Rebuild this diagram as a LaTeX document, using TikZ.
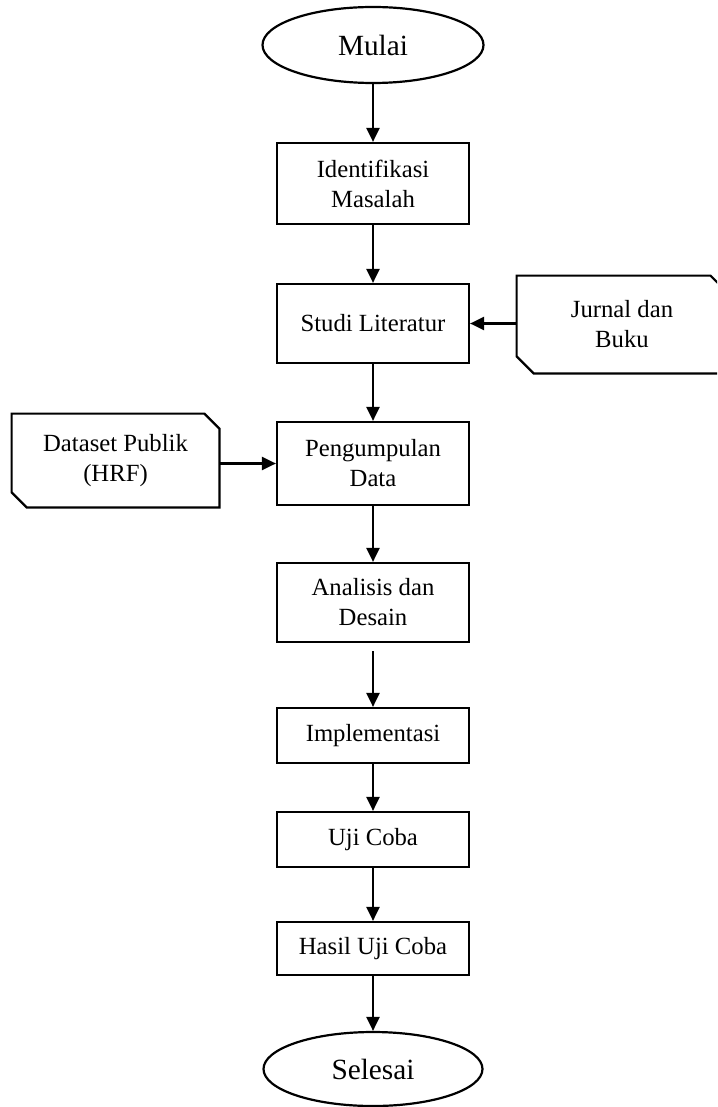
\documentclass[tikz,border=0pt]{standalone}
\usepackage{fontspec}
\setmainfont{Liberation Serif}
\usetikzlibrary{arrows.meta,shapes.geometric}
\tikzset{
  boxnode/.style={draw, line width=1.1pt, rectangle, inner sep=0pt, minimum width=96pt, align=center, font=\fontsize{12.35pt}{15pt}\selectfont},
  termnode/.style={draw, line width=1.1pt, ellipse, inner sep=0pt, font=\fontsize{14.65pt}{17pt}\selectfont},
  sidenode/.style={rectangle, inner sep=0pt, align=center, font=\fontsize{12.35pt}{15pt}\selectfont},
  sideline/.style={line width=1.1pt, line join=miter},
  arr/.style={line width=1.1pt, -{Triangle[length=7pt,width=6.5pt]}}
}
\begin{document}
\begin{tikzpicture}[x=0.5pt,y=-0.5pt]
\useasboundingbox (0,0) rectangle (717,1107);
\clip (0,0) rectangle (717,1107);
\fill[white] (0,0) rectangle (717,1107);

\node[termnode, minimum width=110.5pt, minimum height=38pt] (mulai) at (373,45) {Mulai};
\node[boxnode, minimum height=40.5pt] (idm) at (373,183.5) {Identifikasi\\Masalah};
\node[boxnode, minimum height=39.5pt] (stu) at (373,323.5) {Studi Literatur};
\node[boxnode, minimum height=41.5pt] (pen) at (373,463.5) {Pengumpulan\\Data};
\node[boxnode, minimum height=39.5pt] (ana) at (373,602.5) {Analisis dan\\Desain};
\node[boxnode, minimum height=27.5pt] (imp) at (373,735.5) {Implementasi};
\node[boxnode, minimum height=27.5pt] (uji) at (373,839.5) {Uji Coba};
\node[boxnode, minimum height=26.5pt] (has) at (373,948.5) {Hasil Uji Coba};
\node[termnode, minimum width=109.5pt, minimum height=37pt] (sel) at (373,1069) {Selesai};

% side inputs
\node[sidenode, minimum width=105pt, minimum height=48.5pt] (jur) at (622,324.5) {Jurnal dan\\Buku};
\draw[sideline] ([xshift=-8.5pt]jur.north east) -- (jur.north west) -- ([yshift=8.5pt]jur.south west)
  -- ([xshift=8.5pt]jur.south west) -- (jur.south east) -- ([yshift=-8.5pt]jur.north east) -- cycle;

\node[sidenode, minimum width=103.5pt, minimum height=46.5pt] (ds) at (115.5,460.5) {Dataset Publik\\(HRF)};
\draw[sideline] ([xshift=-7.5pt]ds.north east) -- (ds.north west) -- ([yshift=7.5pt]ds.south west)
  -- ([xshift=7.5pt]ds.south west) -- (ds.south east) -- ([yshift=-7.5pt]ds.north east) -- cycle;

% connectors
\draw[arr] (mulai.south) -- (idm.north);
\draw[arr] (idm.south) -- (stu.north);
\draw[arr] (stu.south) -- (pen.north);
\draw[arr] (pen.south) -- (ana.north);
\draw[arr] ([yshift=-4pt]ana.south) -- (imp.north);
\draw[arr] (imp.south) -- (uji.north);
\draw[arr] (uji.south) -- (has.north);
\draw[arr] (has.south) -- (sel.north);
\draw[arr] (jur.west |- stu.east) -- (stu.east);
\draw[arr] (ds.east |- pen.west) -- (pen.west);
\end{tikzpicture}
\end{document}
